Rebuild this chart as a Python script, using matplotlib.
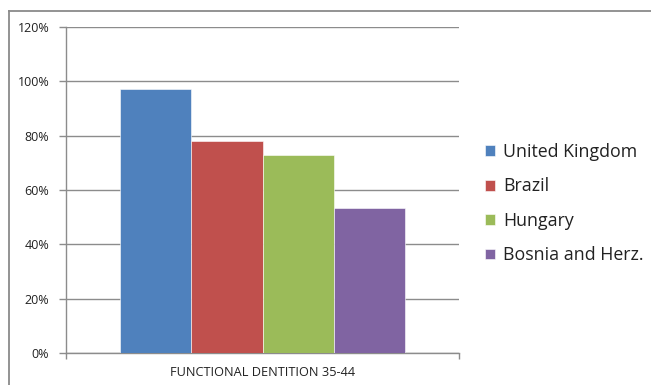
import matplotlib.pyplot as plt
from matplotlib.lines import Line2D
from matplotlib.ticker import FuncFormatter

# Share of adults 35-44 with a functional dentition
countries = ['United Kingdom', 'Brazil', 'Hungary', 'Bosnia and Herz.']
values = [0.97, 0.78, 0.73, 0.535]
colors = ['#4F81BD', '#C0504D', '#9BBB59', '#8064A2']
category = 'FUNCTIONAL DENTITION 35-44'
yticks = [0, 0.2, 0.4, 0.6, 0.8, 1.0, 1.2]

plt.rcParams['font.family'] = ['Open Sans', 'DejaVu Sans']

fig = plt.figure(figsize=(6.51, 3.85), dpi=100)
ax = fig.add_axes([66 / 651, 1 - 353 / 385, 393 / 651, 326 / 385])

# four bars side by side around a single category
n = len(values)
for i, (name, v, c) in enumerate(zip(countries, values, colors)):
    ax.bar(i - (n - 1) / 2, v, width=1.0, color=c, label=name,
           edgecolor='white', linewidth=0.4, zorder=3)

ax.set_xlim(-2.75, 2.75)
ax.set_ylim(0, 1.2)
ax.set_yticks(yticks)
ax.yaxis.set_major_formatter(FuncFormatter(lambda v, p: f'{v * 100:.0f}%'))
ax.grid(axis='y', color='#8c8c8c', linewidth=1.0, zorder=0)

ax.set_xticks([-2.75, 2.75])
ax.set_xticklabels(['', ''])
ax.tick_params(axis='x', length=4, color='#8c8c8c', width=1.0)
ax.tick_params(axis='y', length=5, color='#8c8c8c', width=1.0,
               labelsize=9, labelcolor='#222222', pad=7)
ax.text(0.5, -0.04, category, transform=ax.transAxes, ha='center', va='top',
        fontsize=9.2, color='#222222')

for s in ['top', 'right']:
    ax.spines[s].set_visible(False)
for s in ['left', 'bottom']:
    ax.spines[s].set_color('#8c8c8c')
    ax.spines[s].set_linewidth(1.0)

leg = fig.legend(loc='upper left', bbox_to_anchor=(478 / 651, 1 - 136 / 385),
                 frameon=False, fontsize=12.8, handlelength=0.55, handleheight=0.55,
                 handletextpad=0.45, labelspacing=0.92, borderaxespad=0)
for t in leg.get_texts():
    t.set_color('#222222')

# chart frame along the top and left edge
fig.add_artist(Line2D([9 / 651, 1], [1 - 11 / 385] * 2, transform=fig.transFigure,
                      color='#8a8a8a', linewidth=1.3))
fig.add_artist(Line2D([9 / 651] * 2, [0, 1 - 11 / 385], transform=fig.transFigure,
                      color='#8a8a8a', linewidth=1.3))

fig.savefig('out.png', dpi=100)
